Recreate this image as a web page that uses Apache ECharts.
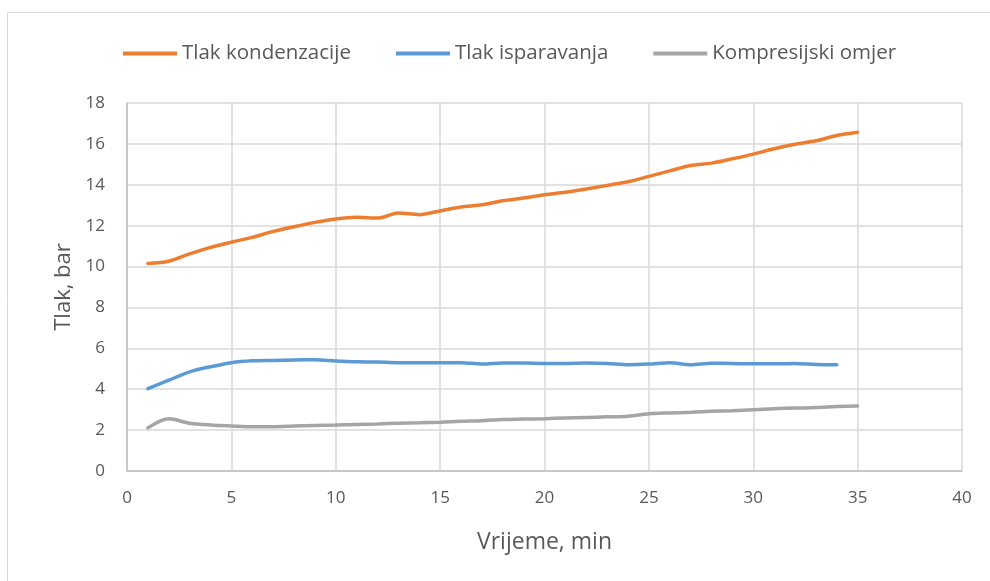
<!DOCTYPE html>
<html>
<head>
<meta charset="utf-8">
<script src="https://cdn.jsdelivr.net/npm/echarts@6/dist/echarts.min.js"></script>
<style>
  html, body { margin: 0; padding: 0; background: #fff; }
  #chart { width: 990px; height: 581px; }
</style>
</head>
<body>
<div id="chart"></div>
<script>
const minutes = [1, 2, 3, 4, 5, 6, 7, 8, 9, 10, 11, 12, 13, 14, 15, 16, 17, 18, 19, 20,
  21, 22, 23, 24, 25, 26, 27, 28, 29, 30, 31, 32, 33, 34, 35]
const tlakKondenzacije = [10.15, 10.26, 10.62, 10.94, 11.19, 11.43, 11.72, 11.95, 12.16, 12.33,
  12.41, 12.37, 12.62, 12.54, 12.72, 12.91, 13.02, 13.22, 13.35, 13.51,
  13.63, 13.79, 13.97, 14.15, 14.41, 14.68, 14.94, 15.06, 15.27, 15.50,
  15.76, 15.98, 16.15, 16.41, 16.57]
const tlakIsparavanja = [4.03, 4.44, 4.85, 5.10, 5.30, 5.39, 5.41, 5.43, 5.44, 5.38,
  5.34, 5.33, 5.30, 5.30, 5.30, 5.30, 5.23, 5.28, 5.28, 5.26,
  5.26, 5.28, 5.26, 5.20, 5.23, 5.30, 5.20, 5.27, 5.26, 5.24,
  5.24, 5.26, 5.21, 5.20]
const kompresijskiOmjer = [2.11, 2.55, 2.34, 2.25, 2.20, 2.16, 2.16, 2.20, 2.23, 2.25,
  2.28, 2.30, 2.34, 2.36, 2.39, 2.43, 2.46, 2.52, 2.54, 2.56,
  2.59, 2.62, 2.65, 2.68, 2.80, 2.84, 2.87, 2.92, 2.95, 3.00,
  3.05, 3.08, 3.10, 3.15, 3.18]

const textColor = '#595959'
const font = '"Open Sans", Lato, sans-serif'

function pairs(vals) {
  return vals.map((v, i) => [minutes[i], v])
}

function lineSeries(name, vals, color) {
  return {
    name,
    type: 'line',
    smooth: 0.3,
    showSymbol: false,
    data: pairs(vals),
    lineStyle: { color, width: 3.5, cap: 'round' },
    itemStyle: { color },
  }
}

const chart = echarts.init(document.getElementById('chart'))
chart.setOption({
  backgroundColor: '#fff',
  animation: false,
  textStyle: { fontFamily: font },
  graphic: [{
    type: 'rect',
    shape: { x: 7.5, y: 12.5, width: 1000, height: 600 },
    style: { fill: 'none', stroke: '#d9d9d9', lineWidth: 1 },
    silent: true,
  }],
  legend: {
    top: 38,
    left: 118,
    itemWidth: 54,
    itemHeight: 4,
    itemGap: 45,
    icon: 'rect',
    textStyle: { color: textColor, fontSize: 20.5, fontFamily: font },
    data: ['Tlak kondenzacije', 'Tlak isparavanja', 'Kompresijski omjer'],
  },
  grid: { left: 127, top: 103, width: 835, height: 368 },
  xAxis: {
    type: 'value',
    min: 0, max: 40, interval: 5,
    name: 'Vrijeme, min',
    nameLocation: 'middle',
    nameGap: 60,
    nameTextStyle: { color: textColor, fontSize: 23, fontFamily: font },
    axisLine: { show: true, lineStyle: { color: '#bfbfbf', width: 1.5 } },
    axisTick: { show: false },
    axisLabel: { color: textColor, fontSize: 17, margin: 19, fontFamily: font },
    splitLine: { show: true, lineStyle: { color: '#d9d9d9', width: 1.5 } },
  },
  yAxis: {
    type: 'value',
    min: 0, max: 18, interval: 2,
    name: 'Tlak, bar',
    nameLocation: 'middle',
    nameGap: 47,
    nameTextStyle: { color: textColor, fontSize: 22, fontFamily: font },
    axisLine: { show: true, lineStyle: { color: '#bfbfbf', width: 1.5 } },
    axisTick: { show: false },
    axisLabel: { color: textColor, fontSize: 17, margin: 22, fontFamily: font },
    splitLine: { show: true, lineStyle: { color: '#d9d9d9', width: 1.5 } },
  },
  series: [
    lineSeries('Tlak kondenzacije', tlakKondenzacije, '#ED7D31'),
    lineSeries('Tlak isparavanja', tlakIsparavanja, '#5B9BD5'),
    lineSeries('Kompresijski omjer', kompresijskiOmjer, '#A5A5A5'),
  ],
})
</script>
</body>
</html>
